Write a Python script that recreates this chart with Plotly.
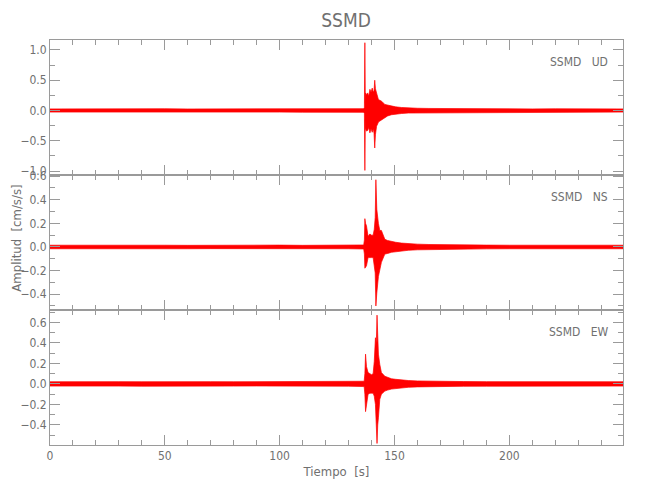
import plotly.graph_objects as go
from plotly.subplots import make_subplots

FONT = "Liberation Sans Narrow, DejaVu Sans Condensed, Arial Narrow, sans-serif"
AXIS_COLOR = "#9a9a9a"
TEXT_COLOR = "#707070"
RED = "#ff0000"

# ---- data: amplitude envelopes (upper / lower) ----
station = "SSMD"
components = ["UD", "NS", "EW"]

ud_t = [0, 10, 20, 30, 40, 50, 60, 70, 80, 90, 100, 110, 120, 130, 136.5, 136.9, 137.1, 137.3,
        137.4, 137.8, 138.3, 138.8, 139.3, 139.8, 140.3, 140.8, 141.1, 141.4, 141.7, 142.2,
        142.7, 143.0, 143.6, 144.5, 145.8, 147.0, 148.7, 150.5, 153.0, 156.0, 160.0, 165.0,
        170.0, 180.0, 190.0, 200.0, 210.0, 220.0, 230.0, 240.0, 249.5]
ud_hi = [0.026, 0.028, 0.025, 0.027, 0.026, 0.029, 0.025, 0.027, 0.026, 0.028, 0.025, 0.027,
         0.026, 0.028, 0.030, 0.05, 1.12, 0.12, 0.29, 0.26, 0.29, 0.24, 0.35, 0.30, 0.37, 0.30,
         0.33, 0.50, 0.36, 0.29, 0.22, 0.18, 0.17, 0.15, 0.10, 0.09, 0.07, 0.06, 0.05, 0.042,
         0.037, 0.034, 0.032, 0.030, 0.028, 0.027, 0.026, 0.028, 0.025, 0.027, 0.026]
ud_lo = [-0.026, -0.027, -0.025, -0.028, -0.026, -0.027, -0.026, -0.028, -0.025, -0.027, -0.026,
         -0.028, -0.026, -0.027, -0.030, -0.05, -0.99, -0.15, -0.30, -0.34, -0.33, -0.28, -0.37,
         -0.30, -0.36, -0.30, -0.38, -0.62, -0.40, -0.26, -0.22, -0.19, -0.18, -0.15, -0.12,
         -0.09, -0.07, -0.06, -0.05, -0.042, -0.037, -0.034, -0.032, -0.030, -0.028, -0.027,
         -0.026, -0.027, -0.025, -0.027, -0.026]

ns_t = [0, 10, 20, 30, 40, 50, 60, 70, 80, 90, 100, 110, 120, 130, 136.6, 136.9, 137.1, 137.4,
        137.8, 138.5, 139.3, 140.0, 140.7, 141.2, 141.6, 141.9, 142.3, 143.0, 143.6, 144.3,
        145.8, 147.0, 148.7, 150.5, 153.0, 156.0, 160.0, 165.0, 170.0, 180.0, 190.0, 200.0,
        210.0, 220.0, 230.0, 240.0, 249.5]
ns_hi = [0.015, 0.016, 0.014, 0.015, 0.016, 0.015, 0.014, 0.016, 0.015, 0.015, 0.016, 0.014,
         0.015, 0.016, 0.017, 0.06, 0.24, 0.20, 0.18, 0.09, 0.11, 0.10, 0.10, 0.15, 0.25, 0.57,
         0.32, 0.20, 0.14, 0.14, 0.065, 0.055, 0.045, 0.04, 0.033, 0.028, 0.024, 0.021, 0.019,
         0.017, 0.016, 0.015, 0.016, 0.014, 0.015, 0.016, 0.015]
ns_lo = [-0.015, -0.014, -0.016, -0.015, -0.015, -0.016, -0.015, -0.014, -0.016, -0.015, -0.015,
         -0.016, -0.014, -0.015, -0.017, -0.06, -0.18, -0.17, -0.16, -0.09, -0.09, -0.09, -0.09,
         -0.13, -0.22, -0.50, -0.39, -0.25, -0.19, -0.13, -0.06, -0.055, -0.045, -0.04, -0.033,
         -0.028, -0.024, -0.021, -0.019, -0.017, -0.016, -0.015, -0.014, -0.016, -0.015, -0.014,
         -0.015]

ew_t = [0, 10, 20, 30, 40, 50, 60, 70, 80, 90, 100, 110, 120, 130, 136.8, 137.1, 137.4, 137.8,
        138.5, 139.3, 140.0, 140.7, 141.2, 141.7, 142.1, 142.4, 142.7, 143.0, 143.6, 144.3,
        145.8, 147.0, 148.7, 150.5, 153.0, 156.0, 160.0, 165.0, 170.0, 180.0, 190.0, 200.0,
        210.0, 220.0, 230.0, 240.0, 249.5]
ew_hi = [0.021, 0.023, 0.020, 0.022, 0.021, 0.023, 0.020, 0.022, 0.021, 0.022, 0.020, 0.023,
         0.021, 0.022, 0.026, 0.10, 0.29, 0.17, 0.11, 0.10, 0.09, 0.10, 0.22, 0.45, 0.40, 0.67,
         0.40, 0.29, 0.19, 0.11, 0.075, 0.065, 0.05, 0.045, 0.038, 0.033, 0.029, 0.026, 0.024,
         0.023, 0.022, 0.021, 0.022, 0.020, 0.022, 0.021, 0.021]
ew_lo = [-0.021, -0.020, -0.022, -0.021, -0.022, -0.020, -0.021, -0.023, -0.021, -0.020, -0.022,
         -0.021, -0.020, -0.022, -0.026, -0.10, -0.27, -0.22, -0.10, -0.09, -0.09, -0.09, -0.12,
         -0.20, -0.35, -0.58, -0.40, -0.33, -0.15, -0.10, -0.07, -0.06, -0.05, -0.045, -0.038,
         -0.033, -0.029, -0.026, -0.024, -0.023, -0.022, -0.021, -0.020, -0.022, -0.021, -0.020,
         -0.021]

x_ticks = [0, 50, 100, 150, 200]
x_range = [0, 249.5]
y_ranges = [[-1.066, 1.165], [-0.534, 0.61], [-0.595, 0.72]]
y_dticks = [0.5, 0.2, 0.2]
y_minor = [0.25, 0.1, 0.1]

series = [(ud_t, ud_hi, ud_lo), (ns_t, ns_hi, ns_lo), (ew_t, ew_hi, ew_lo)]

fig = make_subplots(rows=3, cols=1, shared_xaxes=True, vertical_spacing=0)

for i, (t, hi, lo) in enumerate(series):
    xs = list(t) + list(t)[::-1]
    ys = list(hi) + list(lo)[::-1]
    fig.add_trace(go.Scatter(x=xs, y=ys, mode="lines", fill="toself",
                             fillcolor=RED, line=dict(color=RED, width=0.7),
                             hoverinfo="skip", showlegend=False), row=i + 1, col=1)
    fig.update_yaxes(range=y_ranges[i], dtick=y_dticks[i], tick0=0, tickformat=".1f",
                     ticks="inside", ticklen=10, tickcolor=AXIS_COLOR, mirror="allticks",
                     showline=True, linecolor=AXIS_COLOR, linewidth=1, showgrid=False,
                     zeroline=False,
                     minor=dict(dtick=y_minor[i], tick0=0, ticks="inside", ticklen=5,
                                tickcolor=AXIS_COLOR),
                     tickfont=dict(family=FONT, size=12, color=TEXT_COLOR),
                     row=i + 1, col=1)
    fig.update_xaxes(range=x_range, tickvals=x_ticks, ticks="inside", ticklen=10,
                     tickcolor=AXIS_COLOR, mirror="allticks", showline=True,
                     linecolor=AXIS_COLOR, linewidth=1, showgrid=False, zeroline=False,
                     minor=dict(dtick=10, tick0=0, ticks="inside", ticklen=5,
                                tickcolor=AXIS_COLOR),
                     tickfont=dict(family=FONT, size=12, color=TEXT_COLOR),
                     row=i + 1, col=1)
    yref = "y domain" if i == 0 else f"y{i + 1} domain"
    xref = "x domain" if i == 0 else f"x{i + 1} domain"
    fig.add_annotation(text=f"{station}&nbsp;&nbsp;&nbsp;{components[i]}", xref=xref, yref=yref,
                       x=0.977, y=0.835, xanchor="right", yanchor="middle", showarrow=False,
                       font=dict(family=FONT, size=12, color=TEXT_COLOR))

fig.update_xaxes(title=dict(text="Tiempo&nbsp;&nbsp;[s]", standoff=4,
                            font=dict(family=FONT, size=13, color=TEXT_COLOR)), row=3, col=1)

fig.add_annotation(text="Amplitud&nbsp;&nbsp;[cm/s/s]", xref="paper", yref="paper",
                   x=-0.059, y=0.51, xanchor="center", yanchor="middle", textangle=-90,
                   showarrow=False, font=dict(family=FONT, size=13, color=TEXT_COLOR))

fig.update_layout(
    width=650, height=500,
    margin=dict(l=40, r=35, t=32, b=63),
    paper_bgcolor="white", plot_bgcolor="white",
    title=dict(text=station, x=0.52, xanchor="center", y=0.976, yanchor="middle",
               font=dict(family=FONT, size=19, color=TEXT_COLOR)),
    showlegend=False,
)

fig.write_html("out.html")
